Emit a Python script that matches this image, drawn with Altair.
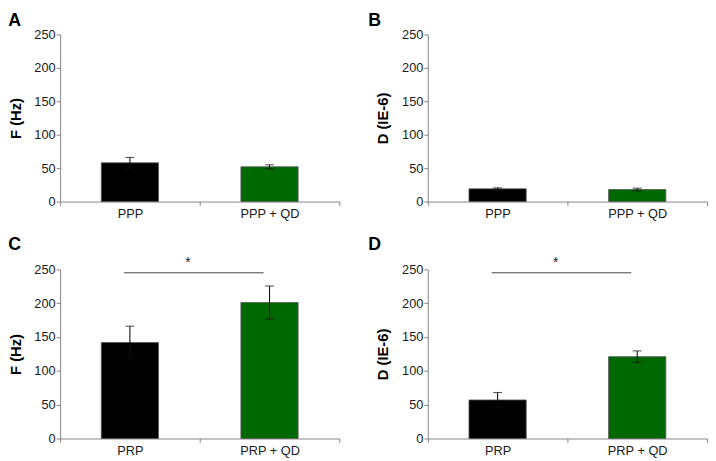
import altair as alt
import pandas as pd

# ---- data ----
letters = ["A", "B", "C", "D"]
y_titles = ["F (Hz)", "D (IE-6)", "F (Hz)", "D (IE-6)"]
cats_top = ["PPP", "PPP + QD"]
cats_bottom = ["PRP", "PRP + QD"]
treatments = ["control", "QD"]

means_A = [58, 52]
errs_A = [8, 3]
means_B = [19, 18]
errs_B = [1.5, 2]
means_C = [142, 201]
errs_C = [24, 24.5]
means_D = [57, 121]
errs_D = [11, 8.5]

sig_level = 245      # height of significance bar (C and D)
y_ticks = [0, 50, 100, 150, 200, 250]

FONT = "Liberation Sans"
AXIS_GREY = "#858585"


def panel(letter, ytitle, cats, means, errs, height, significant, title_dx, title_offset):
    df = pd.DataFrame({
        "cat": cats,
        "val": means,
        "lo": [m - e for m, e in zip(means, errs)],
        "hi": [m + e for m, e in zip(means, errs)],
        "treat": treatments,
    })
    x_enc = alt.X(
        "cat:N", sort=cats,
        scale=alt.Scale(paddingInner=0, paddingOuter=0),
        axis=alt.Axis(title=None, labelAngle=0, tickBand="extent",
                      tickSize=4, labelPadding=2),
    )

    def y_enc(field):
        return alt.Y(
            field, title=ytitle,
            scale=alt.Scale(domain=[0, 250], nice=False),
            axis=alt.Axis(values=y_ticks, tickSize=4, labelPadding=1,
                          titlePadding=11, grid=False),
        )

    bars = alt.Chart(df).mark_bar(
        width=alt.RelativeBandSize(0.41), stroke="#555555", strokeWidth=0.8
    ).encode(
        x=x_enc,
        y=y_enc("val:Q"),
        color=alt.Color("treat:N", scale=alt.Scale(domain=treatments,
                                                   range=["#000000", "#006800"]),
                        legend=None),
    )
    err = alt.Chart(df).mark_errorbar(
        ticks=True, size=9, thickness=1.1
    ).encode(
        x=alt.X("cat:N", sort=cats),
        y=y_enc("lo:Q"),
        y2="hi:Q",
        color=alt.value("#111111"),
    )
    layers = [bars, err]
    if significant:
        sdf = pd.DataFrame({"cat": cats, "s": [sig_level, sig_level]})
        line = alt.Chart(sdf).mark_line(
            color="#444444", strokeWidth=1, xOffset=-6
        ).encode(x=alt.X("cat:N", sort=cats), y=y_enc("s:Q"))
        star = alt.Chart(sdf.iloc[[1]]).mark_text(
            text="*", fontSize=14, font=FONT, color="#222222",
            dx=-12, dy=-10, baseline="middle"
        ).encode(x=alt.X("cat:N", sort=cats, bandPosition=0), y=y_enc("s:Q"))
        layers += [line, star]
    return alt.layer(*layers).properties(
        width=284, height=height,
        title=alt.Title(letter, anchor="start", frame="bounds", fontSize=18,
                        fontWeight="bold", font=FONT, color="#000000",
                        dx=title_dx, offset=title_offset),
    )


top = alt.hconcat(
    panel(letters[0], y_titles[0], cats_top, means_A, errs_A, 170, False, 0, -1),
    panel(letters[1], y_titles[1], cats_top, means_B, errs_B, 170, False, -8, -1),
    spacing=28,
)
bottom = alt.hconcat(
    panel(letters[2], y_titles[2], cats_bottom, means_C, errs_C, 172, True, 0, 2),
    panel(letters[3], y_titles[3], cats_bottom, means_D, errs_D, 172, True, -8, 2),
    spacing=28,
)

chart = alt.vconcat(top, bottom, spacing=16).properties(
    padding=0
).configure_view(
    stroke=None
).configure_axis(
    labelFont=FONT, labelFontSize=13, labelColor="#1a1a1a",
    titleFont=FONT, titleFontSize=15, titleFontWeight="bold", titleColor="#000000",
    domainColor=AXIS_GREY, tickColor=AXIS_GREY, domainWidth=1, tickWidth=1,
)

chart.save("out.html", embed_options={"renderer": "svg", "actions": False})
